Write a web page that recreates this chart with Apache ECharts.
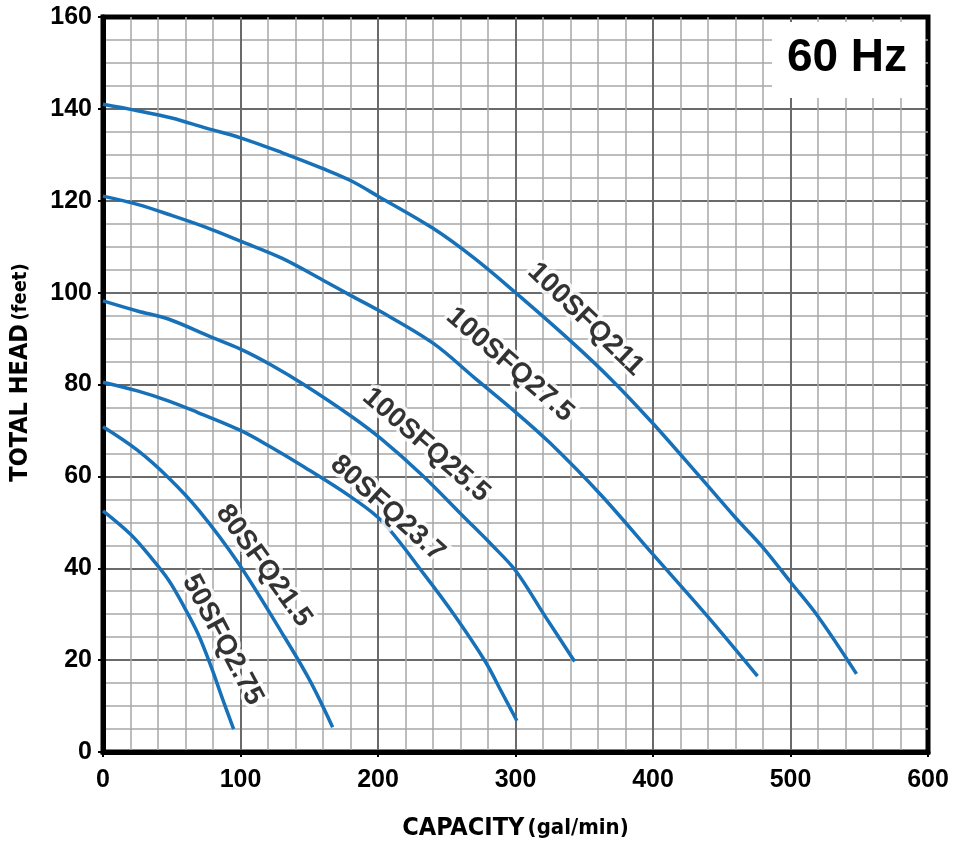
<!DOCTYPE html>
<html><head><meta charset="utf-8">
<script src="https://cdn.jsdelivr.net/npm/echarts@6/dist/echarts.min.js"></script>
<style>html,body{margin:0;padding:0;background:#fff}#c{width:957px;height:846px}</style>
</head><body><div id="c"></div>
<script>
// ---- data ----
const xTickValues = [0, 100, 200, 300, 400, 500, 600];
const yTickValues = [0, 20, 40, 60, 80, 100, 120, 140, 160];
const seriesNames = ['100SFQ211', '100SFQ27.5', '100SFQ25.5', '80SFQ23.7', '80SFQ21.5', '50SFQ2.75'];
const s100SFQ211 = [[0,141],[25,139.6],[50,138],[75,135.8],[100,133.7],[130,130.5],[160,127],[180,124.4],[200,121],[240,114],[270,107.5],[300,100],[340,89.5],[370,81],[400,71.5],[435,59.6],[460,51],[480,44.5],[500,37],[520,29.5],[548,17]];
const s100SFQ27_5 = [[0,121],[25,119.2],[50,116.8],[75,114.2],[100,111.2],[130,107.5],[160,102.7],[180,99.4],[200,96.2],[240,89],[270,81.5],[300,74],[325,67.3],[362,56],[400,43],[440,29.4],[476,16.5]];
const s100SFQ25_5 = [[0,98.2],[25,96],[48,94.2],[78,90.4],[100,87.7],[122,84.3],[146,80],[180,73.2],[203,68],[232,60.3],[263,51],[283,45],[300,39.5],[321,29.8],[343,19.7]];
const s80SFQ23_7 = [[0,80.5],[25,78.6],[48,76.4],[69,73.9],[100,70],[122,66.4],[146,62.1],[180,55.6],[203,50.2],[234,38.5],[256,29.6],[278,19.7],[290,13],[301,6.8]];
const s80SFQ21_5 = [[0,70.8],[25,65.7],[48,59.6],[70,52.5],[98,41.3],[130,26],[150,15.8],[167,5.4]];
const s50SFQ2_75 = [[0,52.5],[20,47.4],[35,42.3],[48,37.3],[59,31.6],[69,25.8],[78.5,18.7],[87,11.5],[95,5]];
const seriesData = [s100SFQ211, s100SFQ27_5, s100SFQ25_5, s80SFQ23_7, s80SFQ21_5, s50SFQ2_75];
// label anchors (data space) and label rotation
const labelAnchors = [[351,94.2],[296,84.3],[235,66.8],[207,53],[117,40.5],[87,24.4]];
const labelAngles = [-44, -41, -41, -42, -54, -62];
const freqLabel = '60 Hz';

// ---- chart ----
const chart = echarts.init(document.getElementById('c'), null, {renderer: 'canvas'});
const BLUE = '#1771b8';
const FONT = 'Liberation Sans, Arial, sans-serif';
const NARROW = 'Liberation Sans Narrow, DejaVu Sans Condensed, Liberation Sans, sans-serif';

const lineSeries = seriesData.map((d, i) => ({
  name: seriesNames[i], type: 'line', data: d, smooth: 0.35, showSymbol: false, symbol: 'none',
  lineStyle: {color: BLUE, width: 3.5}, z: 3, silent: true
}));
function labelLayer(fill, border, z) {
  return {
    type: 'scatter', symbolSize: 0, z: z, silent: true,
    data: labelAnchors.map((p, i) => ({name: seriesNames[i], value: p, label: {rotate: labelAngles[i]}})),
    label: {
      show: true, position: 'inside', formatter: '{b}',
      fontFamily: FONT, fontWeight: 'bold', fontSize: 28, color: fill,
      textBorderColor: border ? '#fff' : 'transparent', textBorderWidth: border ? 7 : 0
    }
  };
}

chart.setOption({
  animation: false,
  backgroundColor: '#fff',
  grid: {left: 100, right: 29, top: 17, bottom: 86, show: true, borderColor: '#000', borderWidth: 5, backgroundColor: 'transparent', containLabel: false},
  xAxis: {
    type: 'value', min: 0, max: 600, interval: 100,
    name: '{a|CAPACITY} {b|(gal/min)}', nameLocation: 'middle', nameGap: 64,
    nameTextStyle: {rich: {
      a: {fontFamily: NARROW, fontWeight: 'bold', fontSize: 25, color: '#000'},
      b: {fontFamily: NARROW, fontWeight: 'bold', fontSize: 22, color: '#000'}
    }},
    axisLine: {show: true, onZero: false, lineStyle: {color: '#000', width: 5}},
    axisTick: {show: true, length: 5, lineStyle: {color: '#000', width: 2}},
    axisLabel: {margin: 16, fontFamily: FONT, fontWeight: 'bold', fontSize: 25, color: '#000',
      formatter: v => xTickValues.includes(v) ? String(v) : ''},
    splitLine: {show: true, showMinLine: false, showMaxLine: false, lineStyle: {color: '#6a6a6a', width: 2}},
    minorTick: {show: false, splitNumber: 5},
    minorSplitLine: {show: true, lineStyle: {color: '#a8a8a8', width: 1.5}}
  },
  yAxis: {
    type: 'value', min: 0, max: 160, interval: 20,
    name: '{a|TOTAL HEAD} {b|(feet)}', nameLocation: 'middle', nameGap: 70, nameRotate: 90,
    nameTextStyle: {padding: [0, 0, 0, 24], rich: {
      a: {fontFamily: NARROW, fontWeight: 'bold', fontSize: 25, color: '#000'},
      b: {fontFamily: NARROW, fontWeight: 'bold', fontSize: 20, color: '#000'}
    }},
    axisLine: {show: true, onZero: false, lineStyle: {color: '#000', width: 5}},
    axisTick: {show: true, length: 5, lineStyle: {color: '#000', width: 2}},
    axisLabel: {margin: 11, fontFamily: FONT, fontWeight: 'bold', fontSize: 25, color: '#000',
      formatter: v => yTickValues.includes(v) ? String(v) : ''},
    splitLine: {show: true, showMinLine: false, showMaxLine: false, lineStyle: {color: '#6a6a6a', width: 2}},
    minorTick: {show: false, splitNumber: 4},
    minorSplitLine: {show: true, lineStyle: {color: '#a8a8a8', width: 1.5}}
  },
  graphic: [
    {type: 'rect', z: 100, shape: {x: 772, y: 22, width: 153, height: 76}, style: {fill: '#fff'}},
    {type: 'text', z: 101, x: 847, y: 58, style: {text: freqLabel, fill: '#000', font: 'bold 46px ' + FONT, textAlign: 'center', textVerticalAlign: 'middle'}}
  ],
  series: [...lineSeries, labelLayer('#fff', true, 5), labelLayer('#000', false, 6)]
});
</script></body></html>
